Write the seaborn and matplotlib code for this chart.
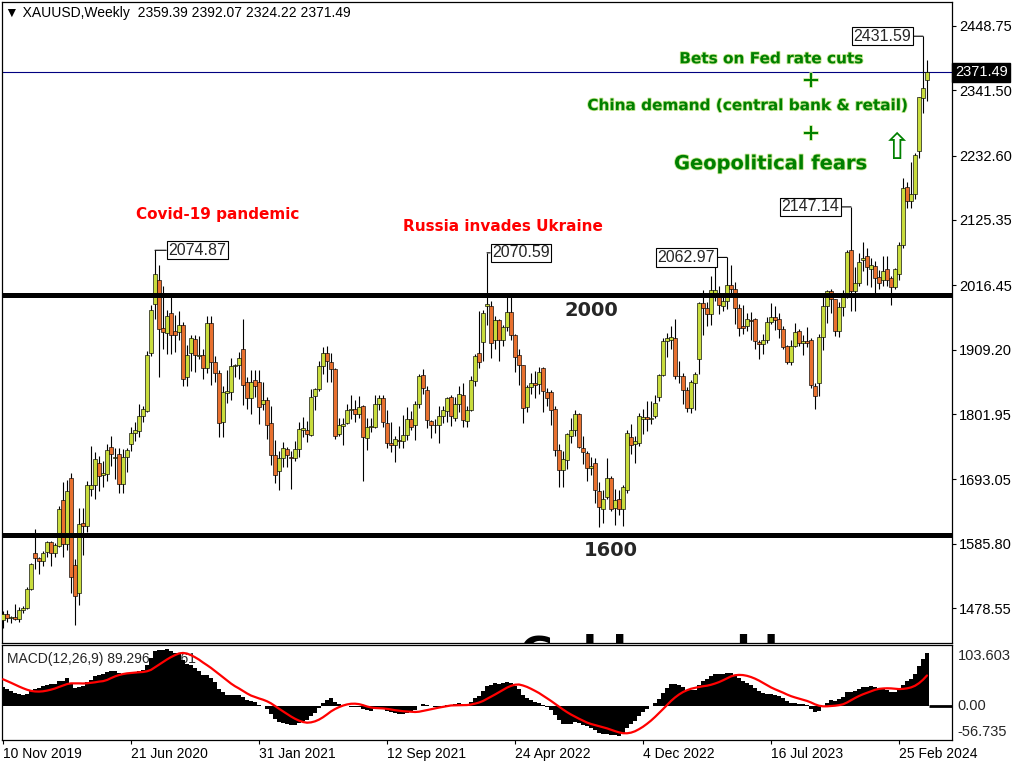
import matplotlib
matplotlib.use("Agg")
import matplotlib.pyplot as plt
import matplotlib.transforms as mtransforms
import matplotlib.patheffects as pe
import numpy as np
import pandas as pd
import seaborn as sns

sns.set_theme(style="white")
plt.rcParams['font.family'] = ['Liberation Sans', 'DejaVu Sans']

# XAUUSD weekly bars, week of 10 Nov 2019 .. week of 14 Apr 2024
opens = [1459, 1468, 1462, 1464, 1460, 1476, 1478, 1511, 1570, 1562,
         1557, 1572, 1589, 1570, 1582, 1659, 1585, 1696, 1551, 1503,
         1621, 1615, 1677, 1684, 1721, 1700, 1702, 1747, 1729, 1735,
         1685, 1730, 1752, 1770, 1774, 1799, 1807, 1903, 1985, 2026,
         1946, 1937, 1971, 1941, 1939, 1950, 1864, 1904, 1927, 1898,
         1901, 1878, 1953, 1888, 1871, 1788, 1837, 1838, 1882, 1884,
         1910, 1856, 1828, 1859, 1856, 1819, 1826, 1787, 1734, 1707,
         1728, 1744, 1731, 1729, 1744, 1776, 1775, 1767, 1832, 1844,
         1882, 1904, 1889, 1877, 1769, 1782, 1787, 1808, 1811, 1802,
         1816, 1762, 1781, 1781, 1819, 1829, 1787, 1753, 1750, 1759,
         1757, 1767, 1794, 1784, 1818, 1867, 1842, 1790, 1784, 1784,
         1798, 1807, 1831, 1795, 1819, 1834, 1791, 1808, 1857, 1903,
         1922, 1982, 1982, 1925, 1958, 1925, 1947, 1972, 1933, 1900,
         1883, 1813, 1847, 1854, 1852, 1879, 1838, 1838, 1810, 1742,
         1708, 1726, 1766, 1775, 1802, 1745, 1737, 1712, 1720, 1674,
         1644, 1664, 1695, 1646, 1661, 1644, 1676, 1764, 1752, 1754,
         1794, 1797, 1793, 1799, 1830, 1867, 1923, 1926, 1928, 1865,
         1866, 1842, 1812, 1853, 1893, 1987, 1979, 1968, 2002, 2004,
         1982, 1991, 2017, 2010, 1978, 1949, 1949, 1958, 1960, 1922,
         1919, 1925, 1956, 1963, 1961, 1943, 1915, 1889, 1915, 1941,
         1920, 1924, 1926, 1849, 1853, 1931, 1982, 2007, 1993, 1940,
         1981, 2002, 2076, 2007, 2021, 2058, 2065, 2044, 2048, 2030,
         2025, 2043, 2028, 2013, 2035, 2083, 2180, 2157, 2169, 2241,
         2329, 2359.39]
highs = [1474, 1475, 1466, 1485, 1481, 1482, 1514, 1553, 1611, 1564,
         1574, 1591, 1591, 1587, 1649, 1689, 1692, 1704, 1560, 1645,
         1645, 1690, 1748, 1739, 1732, 1723, 1752, 1765, 1745, 1745,
         1744, 1746, 1780, 1789, 1818, 1815, 1907, 1984, 2074.87, 2051,
         2015, 1976, 2000, 1967, 1973, 1955, 1917, 1933, 1933, 1932,
         1911, 1965, 1965, 1898, 1876, 1848, 1875, 1896, 1886, 1906,
         1960, 1863, 1875, 1875, 1875, 1855, 1830, 1816, 1759, 1740,
         1755, 1747, 1741, 1757, 1789, 1797, 1790, 1843, 1845, 1890,
         1913, 1916, 1903, 1879, 1795, 1795, 1818, 1834, 1826, 1832,
         1817, 1796, 1795, 1834, 1834, 1834, 1809, 1788, 1765, 1782,
         1800, 1814, 1807, 1823, 1868, 1877, 1849, 1792, 1793, 1815,
         1815, 1831, 1834, 1830, 1848, 1853, 1815, 1865, 1902, 1974,
         1975, 2070.59, 1990, 1966, 1960, 1950, 1998, 1998, 1936, 1910,
         1884, 1850, 1870, 1874, 1880, 1880, 1846, 1842, 1815, 1752,
         1740, 1770, 1795, 1808, 1803, 1765, 1740, 1730, 1729, 1688,
         1675, 1729, 1698, 1677, 1675, 1684, 1775, 1786, 1765, 1804,
         1810, 1824, 1823, 1833, 1869, 1929, 1937, 1949, 1960, 1890,
         1871, 1847, 1858, 1872, 1989, 2009, 1989, 2032, 2048, 2015,
         2000, 2062.97, 2050, 2022, 1985, 1984, 1971, 1972, 1962, 1925,
         1935, 1963, 1987, 1982, 1970, 1948, 1917, 1925, 1953, 1944,
         1933, 1947, 1928, 1853, 1936, 1997, 2009, 2010, 1994, 1988,
         2008, 2075, 2147.14, 2047, 2070, 2088, 2078, 2062, 2057, 2042,
         2066, 2065, 2032, 2045, 2088, 2195, 2189, 2222, 2237, 2331,
         2431.59, 2392.07]
lows = [1445, 1456, 1453, 1458, 1455, 1470, 1477, 1508, 1543, 1536,
        1549, 1563, 1548, 1563, 1580, 1563, 1575, 1504, 1451, 1484,
        1567, 1606, 1666, 1660, 1673, 1680, 1690, 1716, 1693, 1670,
        1670, 1706, 1740, 1757, 1764, 1789, 1806, 1898, 1960, 1863,
        1911, 1902, 1902, 1906, 1925, 1849, 1848, 1873, 1872, 1893,
        1860, 1870, 1850, 1855, 1764, 1764, 1820, 1826, 1864, 1860,
        1817, 1811, 1802, 1831, 1785, 1808, 1760, 1717, 1687, 1676,
        1713, 1714, 1677, 1724, 1731, 1764, 1756, 1765, 1808, 1840,
        1868, 1855, 1856, 1761, 1765, 1750, 1785, 1793, 1789, 1795,
        1690, 1742, 1772, 1778, 1809, 1781, 1745, 1738, 1722, 1746,
        1745, 1759, 1775, 1758, 1812, 1835, 1778, 1762, 1770, 1753,
        1787, 1789, 1782, 1791, 1805, 1780, 1781, 1807, 1849, 1878,
        1890, 1950, 1895, 1910, 1890, 1915, 1941, 1925, 1872, 1850,
        1787, 1806, 1836, 1829, 1836, 1805, 1816, 1784, 1732, 1680,
        1681, 1711, 1754, 1765, 1745, 1719, 1691, 1700, 1654, 1614,
        1621, 1660, 1641, 1617, 1634, 1616, 1670, 1735, 1721, 1748,
        1768, 1773, 1785, 1795, 1824, 1865, 1897, 1911, 1861, 1853,
        1819, 1805, 1804, 1809, 1869, 1934, 1949, 1950, 1990, 1969,
        1974, 1977, 2000, 1952, 1932, 1935, 1940, 1925, 1910, 1893,
        1902, 1920, 1952, 1942, 1928, 1910, 1885, 1884, 1913, 1915,
        1901, 1913, 1846, 1810, 1832, 1908, 1954, 1970, 1932, 1931,
        1965, 1996, 1974, 1973, 2016, 2040, 2017, 2013, 2002, 2010,
        2016, 2015, 1984, 2010, 2025, 2078, 2146, 2145, 2160, 2228,
        2303, 2324.22]
closes = [1468, 1462, 1464, 1460, 1476, 1478, 1511, 1552, 1562, 1557,
          1571, 1589, 1570, 1584, 1643, 1585, 1674, 1530, 1498, 1618,
          1615, 1683, 1683, 1727, 1698, 1703, 1742, 1735, 1731, 1685,
          1730, 1742, 1770, 1775, 1799, 1810, 1901, 1975, 2035, 1944,
          1939, 1965, 1933, 1933, 1951, 1860, 1901, 1929, 1901, 1901,
          1878, 1953, 1888, 1871, 1787, 1838, 1840, 1882, 1884, 1895,
          1850, 1828, 1856, 1848, 1814, 1826, 1784, 1734, 1701, 1728,
          1745, 1734, 1729, 1744, 1777, 1778, 1768, 1831, 1844, 1882,
          1903, 1891, 1877, 1766, 1783, 1785, 1808, 1811, 1802, 1813,
          1763, 1781, 1782, 1819, 1829, 1788, 1754, 1750, 1760, 1757,
          1767, 1794, 1781, 1819, 1866, 1845, 1792, 1784, 1783, 1798,
          1808, 1829, 1798, 1819, 1835, 1792, 1808, 1859, 1899, 1888,
          1970, 1986, 1921, 1958, 1925, 1947, 1972, 1933, 1897, 1883,
          1812, 1847, 1853, 1851, 1872, 1840, 1828, 1809, 1742, 1708,
          1727, 1768, 1775, 1802, 1747, 1738, 1712, 1716, 1676, 1647,
          1661, 1695, 1644, 1658, 1644, 1681, 1771, 1750, 1757, 1799,
          1797, 1794, 1796, 1821, 1867, 1923, 1928, 1930, 1866, 1866,
          1842, 1812, 1855, 1869, 1987, 1979, 1969, 2008, 2008, 1983,
          1990, 2017, 2011, 1978, 1946, 1945, 1961, 1957, 1923, 1919,
          1925, 1955, 1963, 1958, 1943, 1914, 1889, 1915, 1939, 1920,
          1924, 1921, 1850, 1832, 1931, 1982, 2007, 1993, 1940, 1981,
          2002, 2072, 2007, 2021, 2056, 2062, 2047, 2050, 2029, 2021,
          2040, 2025, 2013, 2043, 2084, 2178, 2157, 2169, 2234, 2331,
          2345, 2371.49]
# weekly closes Jan-Nov 2019, only used to warm up the MACD averages
warmup_closes = [1285, 1288, 1282, 1304, 1318, 1314, 1322, 1327, 1294, 1298,
                 1302, 1313, 1292, 1291, 1290, 1275, 1286, 1280, 1286, 1277,
                 1284, 1305, 1341, 1341, 1399, 1409, 1399, 1415, 1426, 1419,
                 1440, 1497, 1513, 1527, 1520, 1507, 1488, 1517, 1497, 1505,
                 1489, 1490, 1505, 1514, 1459]

date_labels = ["10 Nov 2019", "21 Jun 2020", "31 Jan 2021", "12 Sep 2021",
               "24 Apr 2022", "4 Dec 2022", "16 Jul 2023", "25 Feb 2024"]
date_bars = [0, 32, 64, 96, 128, 160, 192, 224]
price_ticks = [2448.75, 2341.50, 2232.60, 2125.35, 2016.45,
               1909.20, 1801.95, 1693.05, 1585.80, 1478.55]
levels = [2000, 1600]
marked_bars = [38, 121, 181, 212, 230]      # bars whose high gets a price box
marked_side = ['right', 'right', 'left', 'left', 'left']
macd_top, macd_bottom = 103.603, -56.735
macd_caption = "MACD(12,26,9) 89.296 68.861"

df = pd.DataFrame({'open': opens, 'high': highs, 'low': lows, 'close': closes})
df['bar'] = np.arange(len(df))

full = pd.Series(warmup_closes + closes, dtype=float)
macd = full.ewm(span=12, adjust=False).mean() - full.ewm(span=26, adjust=False).mean()
signal = macd.rolling(9).mean()
df['macd'] = macd.iloc[-len(df):].values
df['signal'] = signal.iloc[-len(df):].values

bull, bear = '#c8dc3c', '#e8702e'
xlim = (-0.25, 237.25)

fig = plt.figure(figsize=(10.24, 7.68), dpi=100)
ax = fig.add_axes([2/1024, 1-643/768, 950/1024, 641/768])
ax2 = fig.add_axes([2/1024, 1-740/768, 950/1024, 95/768])

# candles
up = df['close'] >= df['open']
body_lo = np.minimum(df['open'], df['close'])
body_h = np.maximum((df['close'] - df['open']).abs(), 1.0)
ax.vlines(df['bar'], df['low'], df['high'], color='black', lw=0.8, zorder=2)
ax.bar(df['bar'], body_h, bottom=body_lo, width=0.82,
       color=np.where(up, bull, bear), edgecolor='black', linewidth=0.45, zorder=3)

for lvl in levels:
    ax.axhline(lvl, color='black', lw=3.6, zorder=4)
    ax.annotate(str(lvl), xy=(147 if lvl == 2000 else 152, lvl), xytext=(0, -4),
                textcoords='offset points', ha='center', va='top',
                fontsize=14, fontweight='bold', family='DejaVu Sans', zorder=5)

ax.axhline(closes[-1], color='#000080', lw=0.8, zorder=1)

for b, side in zip(marked_bars, marked_side):
    hi = highs[b]
    dx = 3.3 if (side == 'right' and b == 38) else (1.3 if side == 'right' else -3.0)
    ax.annotate(f"{hi:.2f}", xy=(b, hi), xytext=(b + dx, hi),
                ha='left' if side == 'right' else 'right', va='center', fontsize=11.5,
                bbox=dict(boxstyle='square,pad=0.1', fc='white', ec='black', lw=0.8),
                arrowprops=dict(arrowstyle='-', color='black', lw=0.8,
                                shrinkA=0, shrinkB=0), zorder=6)

green = '#008000'
halo = [pe.withStroke(linewidth=1.2, foreground='#c6e690')]
kw = dict(ha='center', va='center', color=green, fontweight='bold',
          family='DejaVu Sans', path_effects=halo, zorder=6)
ax.text(192, 2394, "Bets on Fed rate cuts", fontsize=11, **kw)
ax.text(202, 2357, "+", fontsize=16, **kw)
ax.text(186, 2316, "China demand (central bank & retail)", fontsize=11, **kw)
ax.text(202, 2269, "+", fontsize=16, **kw)
ax.text(192, 2219, "Geopolitical fears", fontsize=14, **kw)
ax.text(223.5, 2243, "\u21e7", fontsize=26, ha='center', va='center',
        color=green, family='DejaVu Sans', zorder=6)

red_kw = dict(ha='center', va='center', color='#ff0000', fontweight='bold',
              family='DejaVu Sans', fontsize=11, zorder=6)
ax.text(53.75, 2135, "Covid-19 pandemic", **red_kw)
ax.text(125, 2115, "Russia invades Ukraine", **red_kw)

ax.text(165, 1436, "Gold weekly", fontsize=30, fontweight='bold', family='DejaVu Sans',
        ha='center', va='top', color='black', clip_on=True, zorder=1)

ax.set_xlim(*xlim)
ax.set_ylim(1420.4, 2488.6)
ax.set_xticks([])
ax.yaxis.tick_right()
ax.set_yticks(price_ticks)
ax.set_yticklabels([f"{p:.2f}" for p in price_ticks])
ax.tick_params(axis='y', right=True, length=3, width=0.8, pad=2, labelsize=10.5,
               colors='black', direction='out')

ax.annotate(f"{closes[-1]:.2f}", xy=(1.003, closes[-1]),
            xycoords=('axes fraction', 'data'), ha='left', va='center', fontsize=10.5,
            color='white', bbox=dict(boxstyle='square,pad=0.18', fc='black', ec='black'),
            annotation_clip=False, zorder=7)

fig.text(5/1024, 1-13/768,
         f"\u25bc XAUUSD,Weekly  {opens[-1]:.2f} {highs[-1]:.2f} {lows[-1]:.2f} {closes[-1]:.2f}",
         fontsize=10, va='center', ha='left', color='black')

# MACD window
ax2.bar(df['bar'], df['macd'], width=1.0, color='black', linewidth=0, zorder=1)
sns.lineplot(data=df, x='bar', y='signal', ax=ax2, color='#ff0000', lw=1.6, zorder=3)
ax2.hlines(0, len(df) - 0.5, xlim[1], color='black', lw=2)
ax2.text(0.005, 0.93, macd_caption, transform=ax2.transAxes, fontsize=10,
         ha='left', va='top', zorder=0.5)
ax2.set_xlim(*xlim)
ax2.set_ylim(macd_bottom, macd_top)
ax2.set_xlabel('')
ax2.set_ylabel('')
ax2.set_yticks([])
ax2.set_xticks(date_bars)
ax2.set_xticklabels(date_labels, ha='left')
ax2.tick_params(axis='x', bottom=True, length=3, width=0.8, pad=2, labelsize=10,
                direction='out', colors='black')
yax = mtransforms.blended_transform_factory(ax2.transAxes, ax2.transData)
ax2.text(1.006, 0.884, f"{macd_top:.3f}", transform=ax2.transAxes, fontsize=10.5, va='center')
ax2.text(1.006, 0.084, f"{macd_bottom:.3f}", transform=ax2.transAxes, fontsize=10.5, va='center')
ax2.text(1.006, 0, "0.00", transform=yax, fontsize=10.5, va='center')

for a in (ax, ax2):
    for s in a.spines.values():
        s.set_color('black')
        s.set_linewidth(0.9)

fig.savefig("out.png", dpi=100, facecolor='white')
